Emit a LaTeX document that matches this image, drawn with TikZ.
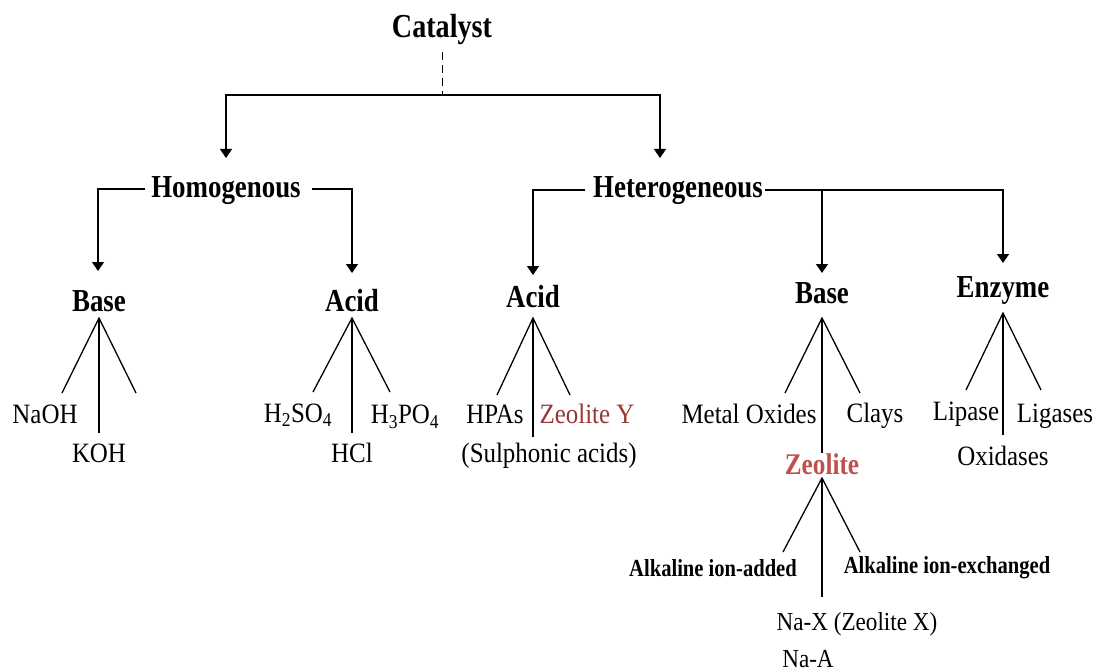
\documentclass[tikz,border=0pt]{standalone}
\usepackage{fontspec}
\setmainfont{Liberation Serif}[FakeStretch=0.89]
\newfontfamily\condbold{Liberation Serif}[FakeStretch=0.84]
\usetikzlibrary{arrows.meta}
\definecolor{zred}{HTML}{C0504D}
\definecolor{zdark}{HTML}{953735}
\begin{document}
\begin{tikzpicture}[x=1pt,y=-1pt,
  line width=1.3pt,
  every node/.style={inner sep=0pt,outer sep=0pt},
  head/.style={font=\condbold\fontsize{32}{34}\selectfont\bfseries},
  top/.style={font=\condbold\fontsize{33.5}{35}\selectfont\bfseries},
  leaf/.style={font=\fontsize{28}{30}\selectfont},
  small/.style={font=\condbold\fontsize{24.5}{26}\selectfont\bfseries},
  arr/.style={-{Triangle[width=12pt,length=9pt]}},
  fan/.style={line width=1.3pt}]
\useasboundingbox (0,0) rectangle (1097,671);
% nodes
\node[top] (cat) at (442,29) {Catalyst};
\node[head] (homo) at (226,191) {Homogenous};
\node[head] (het) at (678,191) {Heterogeneous};
\node[head] (hbase) at (99,301) {Base};
\node[head] (hacid) at (352,301) {Acid};
\node[head] (tacid) at (533,297) {Acid};
\node[head] (tbase) at (822,293) {Base};
\node[head] (enz) at (1003,290) {Enzyme};
\node[leaf] (naoh) at (45,414) {NaOH};
\node[leaf] (koh) at (99,453) {KOH};
\node[leaf] (hso) at (298,415) {H\textsubscript{2}SO\textsubscript{4}};
\node[leaf] (hcl) at (352,453) {HCl};
\node[leaf] (hpo) at (405,417) {H\textsubscript{3}PO\textsubscript{4}};
\node[leaf] (hpa) at (495,414) {HPAs};
\node[leaf,text=zdark] (zy) at (587,414) {Zeolite Y};
\node[leaf] (sulf) at (549,456) {(Sulphonic acids)};
\node[leaf] (metal) at (749,414) {Metal Oxides};
\node[leaf] (clay) at (875,416) {Clays};
\node[text=zred,font=\condbold\fontsize{30}{32}\selectfont\bfseries] (zeo) at (822,464) {Zeolite};
\node[leaf] (lip) at (966,414) {Lipase};
\node[leaf] (lig) at (1055,416) {Ligases};
\node[leaf] (oxi) at (1003,456) {Oxidases};
\node[small] (aadd) at (713,568) {Alkaline ion-added};
\node[small] (aex) at (947,568) {Alkaline ion-exchanged};
\node[font=\fontsize{26}{28}\selectfont] (nax) at (857,624) {Na-X (Zeolite X)};
\node[font=\fontsize{26}{28}\selectfont] (naa) at (808,659) {Na-A};
% junction and tip coordinates
\coordinate (c0) at (442,52);
\coordinate (j0) at (442,95);
\coordinate (t1) at (226,158);
\coordinate (t2) at (660,158);
\coordinate (homoL) at (145,189);
\coordinate (homoR) at (312,189);
\coordinate (t3) at (98,271);
\coordinate (t4) at (352,273);
\coordinate (hetL) at (585,190);
\coordinate (hetR) at (765,190);
\coordinate (jb) at (822,190);
\coordinate (t5) at (533,275);
\coordinate (t6) at (822,273);
\coordinate (t7) at (1003,263);
% top level
\draw[dash pattern=on 8pt off 5pt,line width=1pt] (c0) -- (j0);
\draw[arr] (j0) -| (t1);
\draw[arr] (j0) -| (t2);
% homogenous
\draw[arr] (homoL) -| (t3);
\draw[arr] (homoR) -| (t4);
% heterogeneous
\draw[arr] (hetL) -| (t5);
\draw[arr] (hetR) -| (t7);
\draw[arr] (jb) -- (t6);
% fans
\coordinate (a1) at (99,318);
\draw[fan] (62,393) -- (a1) -- (136,393); \draw[fan] (a1) -- (99,433);
\coordinate (a2) at (352,318);
\draw[fan] (313,392) -- (a2) -- (390,392); \draw[fan] (a2) -- (352,433);
\coordinate (a3) at (533,318);
\draw[fan] (497,395) -- (a3) -- (570,395); \draw[fan] (a3) -- (533,437);
\coordinate (a4) at (822,318);
\draw[fan] (785,393) -- (a4) -- (860,393); \draw[fan] (a4) -- (822,453);
\coordinate (a5) at (1003,313);
\draw[fan] (966,390) -- (a5) -- (1041,390); \draw[fan] (a5) -- (1003,435);
\coordinate (a6) at (822,478);
\draw[fan] (783,552) -- (a6) -- (860,552); \draw[fan] (a6) -- (822,597);
\end{tikzpicture}
\end{document}
